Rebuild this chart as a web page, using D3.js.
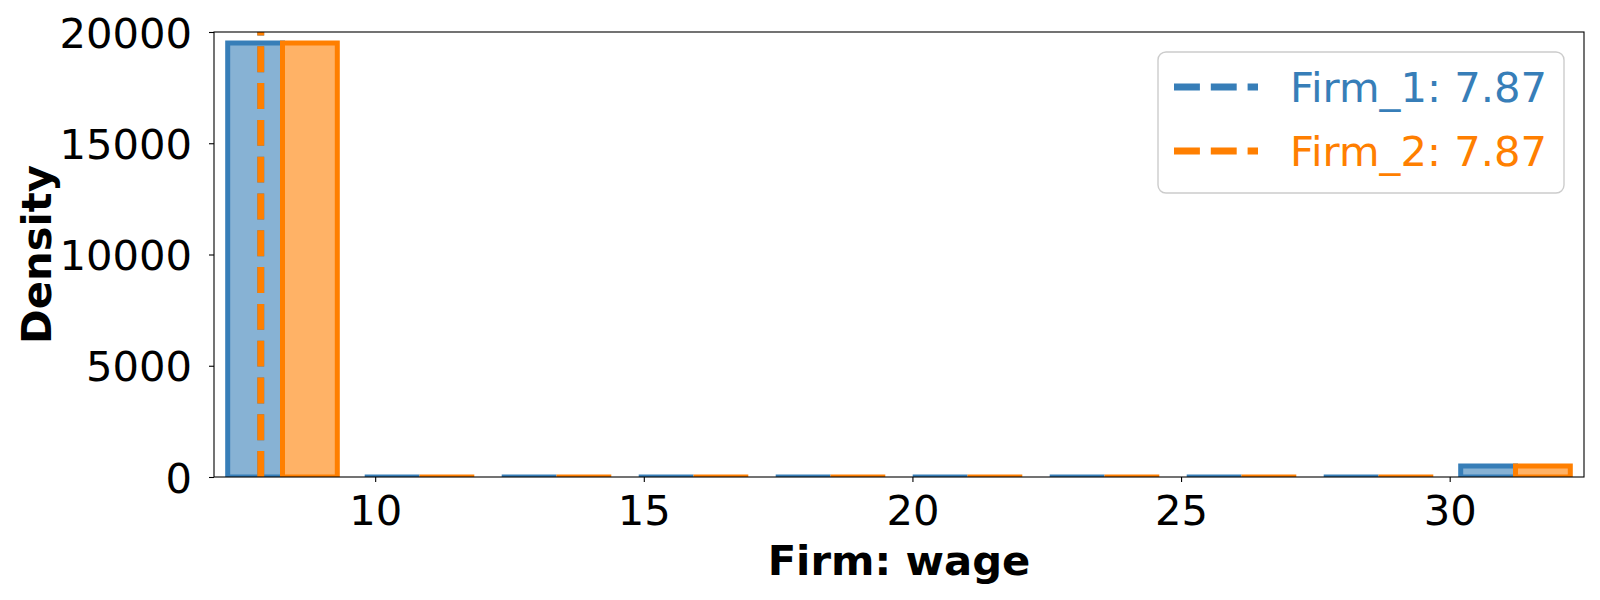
<!DOCTYPE html>
<html>
<head>
<meta charset="utf-8">
<script src="https://cdn.jsdelivr.net/npm/d3@7"></script>
<style>
  body { margin: 0; background: #fff; }
  text { font-family: "DejaVu Sans", sans-serif; }
</style>
</head>
<body>
<div id="chart"></div>
<script>
'use strict';

// histogram bin edges (wage) and density per bin
let binEdges = [7.0, 9.55, 12.1, 14.65, 17.2, 19.75, 22.3, 24.85, 27.4, 29.95, 32.5];
let firm1Density = [19510, 0, 0, 0, 0, 0, 0, 0, 0, 500];
let firm2Density = [19510, 0, 0, 0, 0, 0, 0, 0, 0, 500];
let seriesNames = ['Firm_1', 'Firm_2'];
let seriesMeans = [7.87, 7.87];
let seriesColors = ['#377eb8', '#ff7f00'];
let xTicks = [10, 15, 20, 25, 30];
let yTicks = [0, 5000, 10000, 15000, 20000];

let width = 1600, height = 600;
let plotLeft = 214, plotRight = 1584, plotTop = 32, plotBottom = 477;
let fontSize = 41.7;

let svg = d3.select('#chart').append('svg')
    .attr('width', width)
    .attr('height', height);

let xScale = d3.scaleLinear()
    .domain([binEdges[0], binEdges[binEdges.length - 1]])
    .range([plotLeft, plotRight]);

let yScale = d3.scaleLinear()
    .domain([0, 20000])
    .range([plotBottom, plotTop]);

svg.append('clipPath')
    .attr('id', 'plot-clip')
    .append('rect')
    .attr('x', plotLeft)
    .attr('y', plotTop)
    .attr('width', plotRight - plotLeft)
    .attr('height', plotBottom - plotTop);

let plot = svg.append('g').attr('clip-path', 'url(#plot-clip)');

let series = [firm1Density, firm2Density];

// bars drawn as closed paths so that empty bins still show their outline
series.forEach(function (values, j) {
    plot.append('g')
        .selectAll('path')
        .data(values)
        .enter()
        .append('path')
        .attr('d', function (d, i) {
            let x0 = xScale(binEdges[i]), x1 = xScale(binEdges[i + 1]);
            let bw = x1 - x0;
            let bx = x0 + bw * 0.1 + j * bw * 0.4;
            let p = d3.path();
            p.rect(bx, yScale(d), bw * 0.4, yScale(0) - yScale(d));
            return p.toString();
        })
        .attr('fill', seriesColors[j])
        .attr('fill-opacity', 0.6)
        .attr('stroke', seriesColors[j])
        .attr('stroke-width', 5);
});

// mean lines
seriesMeans.forEach(function (m, j) {
    plot.append('line')
        .attr('x1', xScale(m))
        .attr('x2', xScale(m))
        .attr('y1', plotBottom)
        .attr('y2', plotTop)
        .attr('stroke', seriesColors[j])
        .attr('stroke-width', 6.9)
        .attr('stroke-dasharray', '25.9 10.9');
});

// axes
let xAxis = d3.axisBottom(xScale)
    .tickValues(xTicks)
    .tickSize(5)
    .tickFormat(d3.format('d'));

let yAxis = d3.axisLeft(yScale)
    .tickValues(yTicks)
    .tickSize(5)
    .tickPadding(17)
    .tickFormat(d3.format('d'));

let gx = svg.append('g')
    .attr('class', 'x-axis')
    .attr('transform', `translate(0, ${plotBottom})`)
    .call(xAxis);
gx.select('.domain').remove();
gx.selectAll('text')
    .attr('y', 48)
    .attr('dy', 0)
    .style('font-size', fontSize + 'px')
    .attr('fill', '#000');
gx.selectAll('line').attr('stroke', '#000').attr('stroke-width', 1.1);

let gy = svg.append('g')
    .attr('class', 'y-axis')
    .attr('transform', `translate(${plotLeft}, 0)`)
    .call(yAxis);
gy.select('.domain').remove();
gy.selectAll('text')
    .attr('dy', '0.36em')
    .style('font-size', fontSize + 'px')
    .attr('fill', '#000');
gy.selectAll('line').attr('stroke', '#000').attr('stroke-width', 1.1);

// frame
svg.append('rect')
    .attr('x', plotLeft)
    .attr('y', plotTop)
    .attr('width', plotRight - plotLeft)
    .attr('height', plotBottom - plotTop)
    .attr('fill', 'none')
    .attr('stroke', '#000')
    .attr('stroke-width', 1.1);

// axis labels
svg.append('text')
    .text('Firm: wage')
    .attr('x', (plotLeft + plotRight) / 2)
    .attr('y', 575)
    .attr('text-anchor', 'middle')
    .style('font-size', fontSize + 'px')
    .style('font-weight', 'bold');

svg.append('text')
    .text('Density')
    .attr('text-anchor', 'middle')
    .attr('transform', `translate(51, ${(plotTop + plotBottom) / 2}) rotate(-90)`)
    .style('font-size', fontSize + 'px')
    .style('font-weight', 'bold');

// legend
let legend = svg.append('g').attr('class', 'legend');

legend.append('rect')
    .attr('x', 1158)
    .attr('y', 52)
    .attr('width', 406)
    .attr('height', 141)
    .attr('rx', 8)
    .attr('fill', '#fff')
    .attr('fill-opacity', 0.8)
    .attr('stroke', '#cccccc')
    .attr('stroke-width', 1.4);

seriesNames.forEach(function (name, j) {
    let cy = 87 + j * 64;
    legend.append('line')
        .attr('x1', 1174)
        .attr('x2', 1258)
        .attr('y1', cy)
        .attr('y2', cy)
        .attr('stroke', seriesColors[j])
        .attr('stroke-width', 6.9)
        .attr('stroke-dasharray', '25.9 10.9');
    legend.append('text')
        .text(`${name}: ${seriesMeans[j].toFixed(2)}`)
        .attr('x', 1290)
        .attr('y', cy + 15)
        .attr('fill', seriesColors[j])
        .style('font-size', fontSize + 'px');
});
</script>
</body>
</html>
